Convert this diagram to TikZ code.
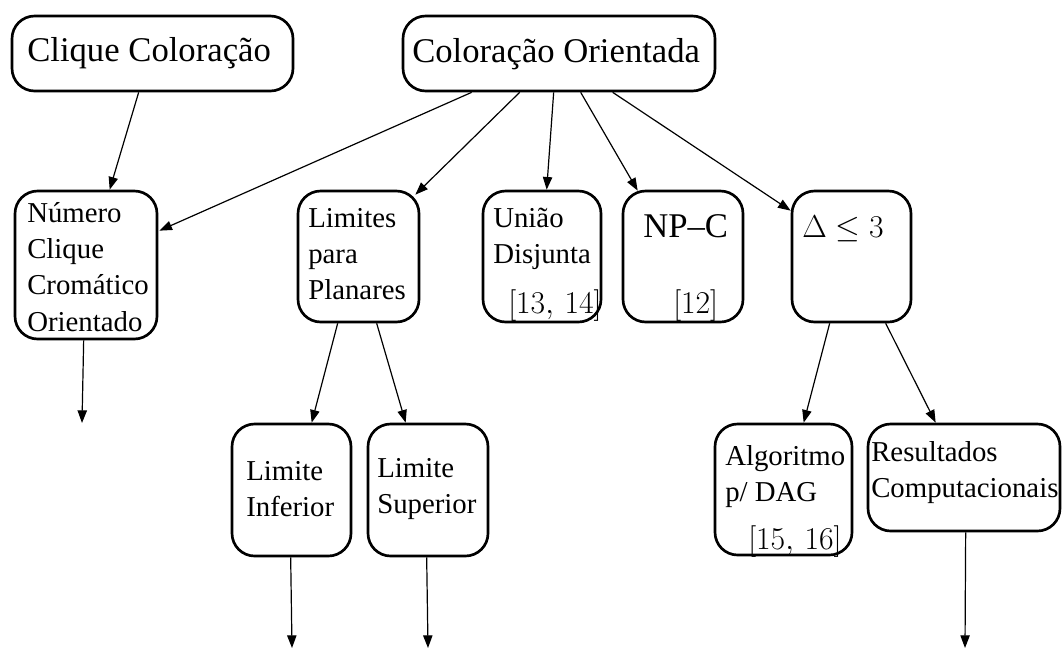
\RequirePackage{fix-cm}
\documentclass[tikz,border=0pt]{standalone}
\usepackage[no-math]{fontspec}
\setmainfont{Liberation Serif}
\usetikzlibrary{arrows.meta,calc}

\tikzset{
  box/.style={draw, line width=2pt, inner sep=0pt, rounded corners=17pt},
  bigtxt/.style={inner sep=0pt, anchor=base west, font=\fontsize{26}{31}\selectfont},
  txt/.style={inner sep=0pt, anchor=base west, font=\fontsize{21.6}{27.3}\selectfont},
  mtxt/.style={inner sep=0pt, anchor=base west, font=\fontsize{23.8}{28}\selectfont},
  link/.style={line width=0.9pt, -{Triangle[length=9.5pt,width=7pt]}}
}
\newcommand{\lines}[1]{\begin{tabular}[t]{@{}l@{}}#1\end{tabular}}

\begin{document}
\begin{tikzpicture}[x=0.75pt,y=-0.75pt]
\useasboundingbox (0,0) rectangle (1062,650);

% boxes
\node[box, minimum width=210.75pt, minimum height=56.25pt] (clique) at (152.5,53.5) {};
\node[box, minimum width=234pt,    minimum height=56.25pt] (orient) at (559,53.5) {};
\node[box, minimum width=106.5pt,  minimum height=111pt]   (numero) at (86,265) {};
\node[box, minimum width=90.75pt,  minimum height=98.25pt] (limites) at (358.5,256.5) {};
\node[box, minimum width=88.5pt,   minimum height=98.25pt] (uniao) at (542,256.5) {};
\node[box, minimum width=90pt,     minimum height=98.25pt] (npc) at (683,256.5) {};
\node[box, minimum width=89.25pt,  minimum height=98.25pt] (delta) at (851.5,256.5) {};
\node[box, minimum width=89.25pt,  minimum height=99pt]    (inf) at (291.5,490) {};
\node[box, minimum width=90pt,     minimum height=99pt]    (sup) at (428,490) {};
\node[box, minimum width=102.75pt, minimum height=98.25pt] (alg) at (783.5,489.5) {};
\node[box, minimum width=144pt,    minimum height=80.25pt] (res) at (964,477.5) {};

% texts
\node[bigtxt] (tclique) at (27,61) {Clique Coloração};
\node[bigtxt] (torient) at (412,62) {Coloração Orientada};
\node[txt] (tnumero) at (27,222) {\lines{Número\\Clique\\Cromático\\Orientado}};
\node[txt] (tlimites) at (308,227) {\lines{Limites\\para\\Planares}};
\node[txt] (tuniao) at (493,227) {\lines{União\\Disjunta}};
\node[mtxt] (cuniao) at (508,313) {$[13,\,14]$};
\node[bigtxt] (tnpc) at (643,237) {NP–C};
\node[mtxt] (cnpc) at (673,313) {$[12]$};
\node[mtxt] (tdelta) at (802,237) {$\Delta \leq 3$};
\node[txt] (tinf) at (246,480) {\lines{Limite\\Inferior}};
\node[txt] (tsup) at (377,477) {\lines{Limite\\Superior}};
\node[txt] (talg) at (725,465) {\lines{Algoritmo\\p/ DAG}};
\node[mtxt] (calg) at (748,549) {$[15,\,16]$};
\node[txt] (tres) at (871,461) {\lines{Resultados\\Computacionais}};

% free ends of the downward arrows
\coordinate (endnum) at (82,423);
\coordinate (endinf) at (292,648);
\coordinate (endsup) at (428,648);
\coordinate (endres) at (965,648);

% connectors
\draw[link] ($(clique.south west)+(128,0)$) -- ($(numero.north west)+(96,0)$);
\draw[link] ($(orient.south west)+(70,0)$) -- ($(numero.north east)+(1,41)$);
\draw[link] ($(orient.south west)+(118,0)$) -- ($(limites.north east)+(-5,5)$);
\draw[link] ($(orient.south west)+(152,0)$) -- ($(uniao.north west)+(65,0)$);
\draw[link] ($(orient.south west)+(179,0)$) -- ($(npc.north west)+(16,1)$);
\draw[link] ($(orient.south west)+(211,0)$) -- ($(delta.north west)+(0,21)$);
\draw[link] ($(numero.south west)+(70,0)$) -- (endnum);
\draw[link] ($(limites.south west)+(41,0)$) -- ($(inf.north west)+(81,0)$);
\draw[link] ($(limites.south west)+(80,0)$) -- ($(sup.north west)+(39,0)$);
\draw[link] ($(inf.south west)+(60,0)$) -- (endinf);
\draw[link] ($(sup.south west)+(60,0)$) -- (endsup);
\draw[link] ($(delta.south west)+(39,0)$) -- ($(alg.north west)+(90,0)$);
\draw[link] ($(delta.south west)+(95,0)$) -- ($(res.north west)+(69,0)$);
\draw[link] ($(res.south west)+(99,0)$) -- (endres);
\end{tikzpicture}
\end{document}
